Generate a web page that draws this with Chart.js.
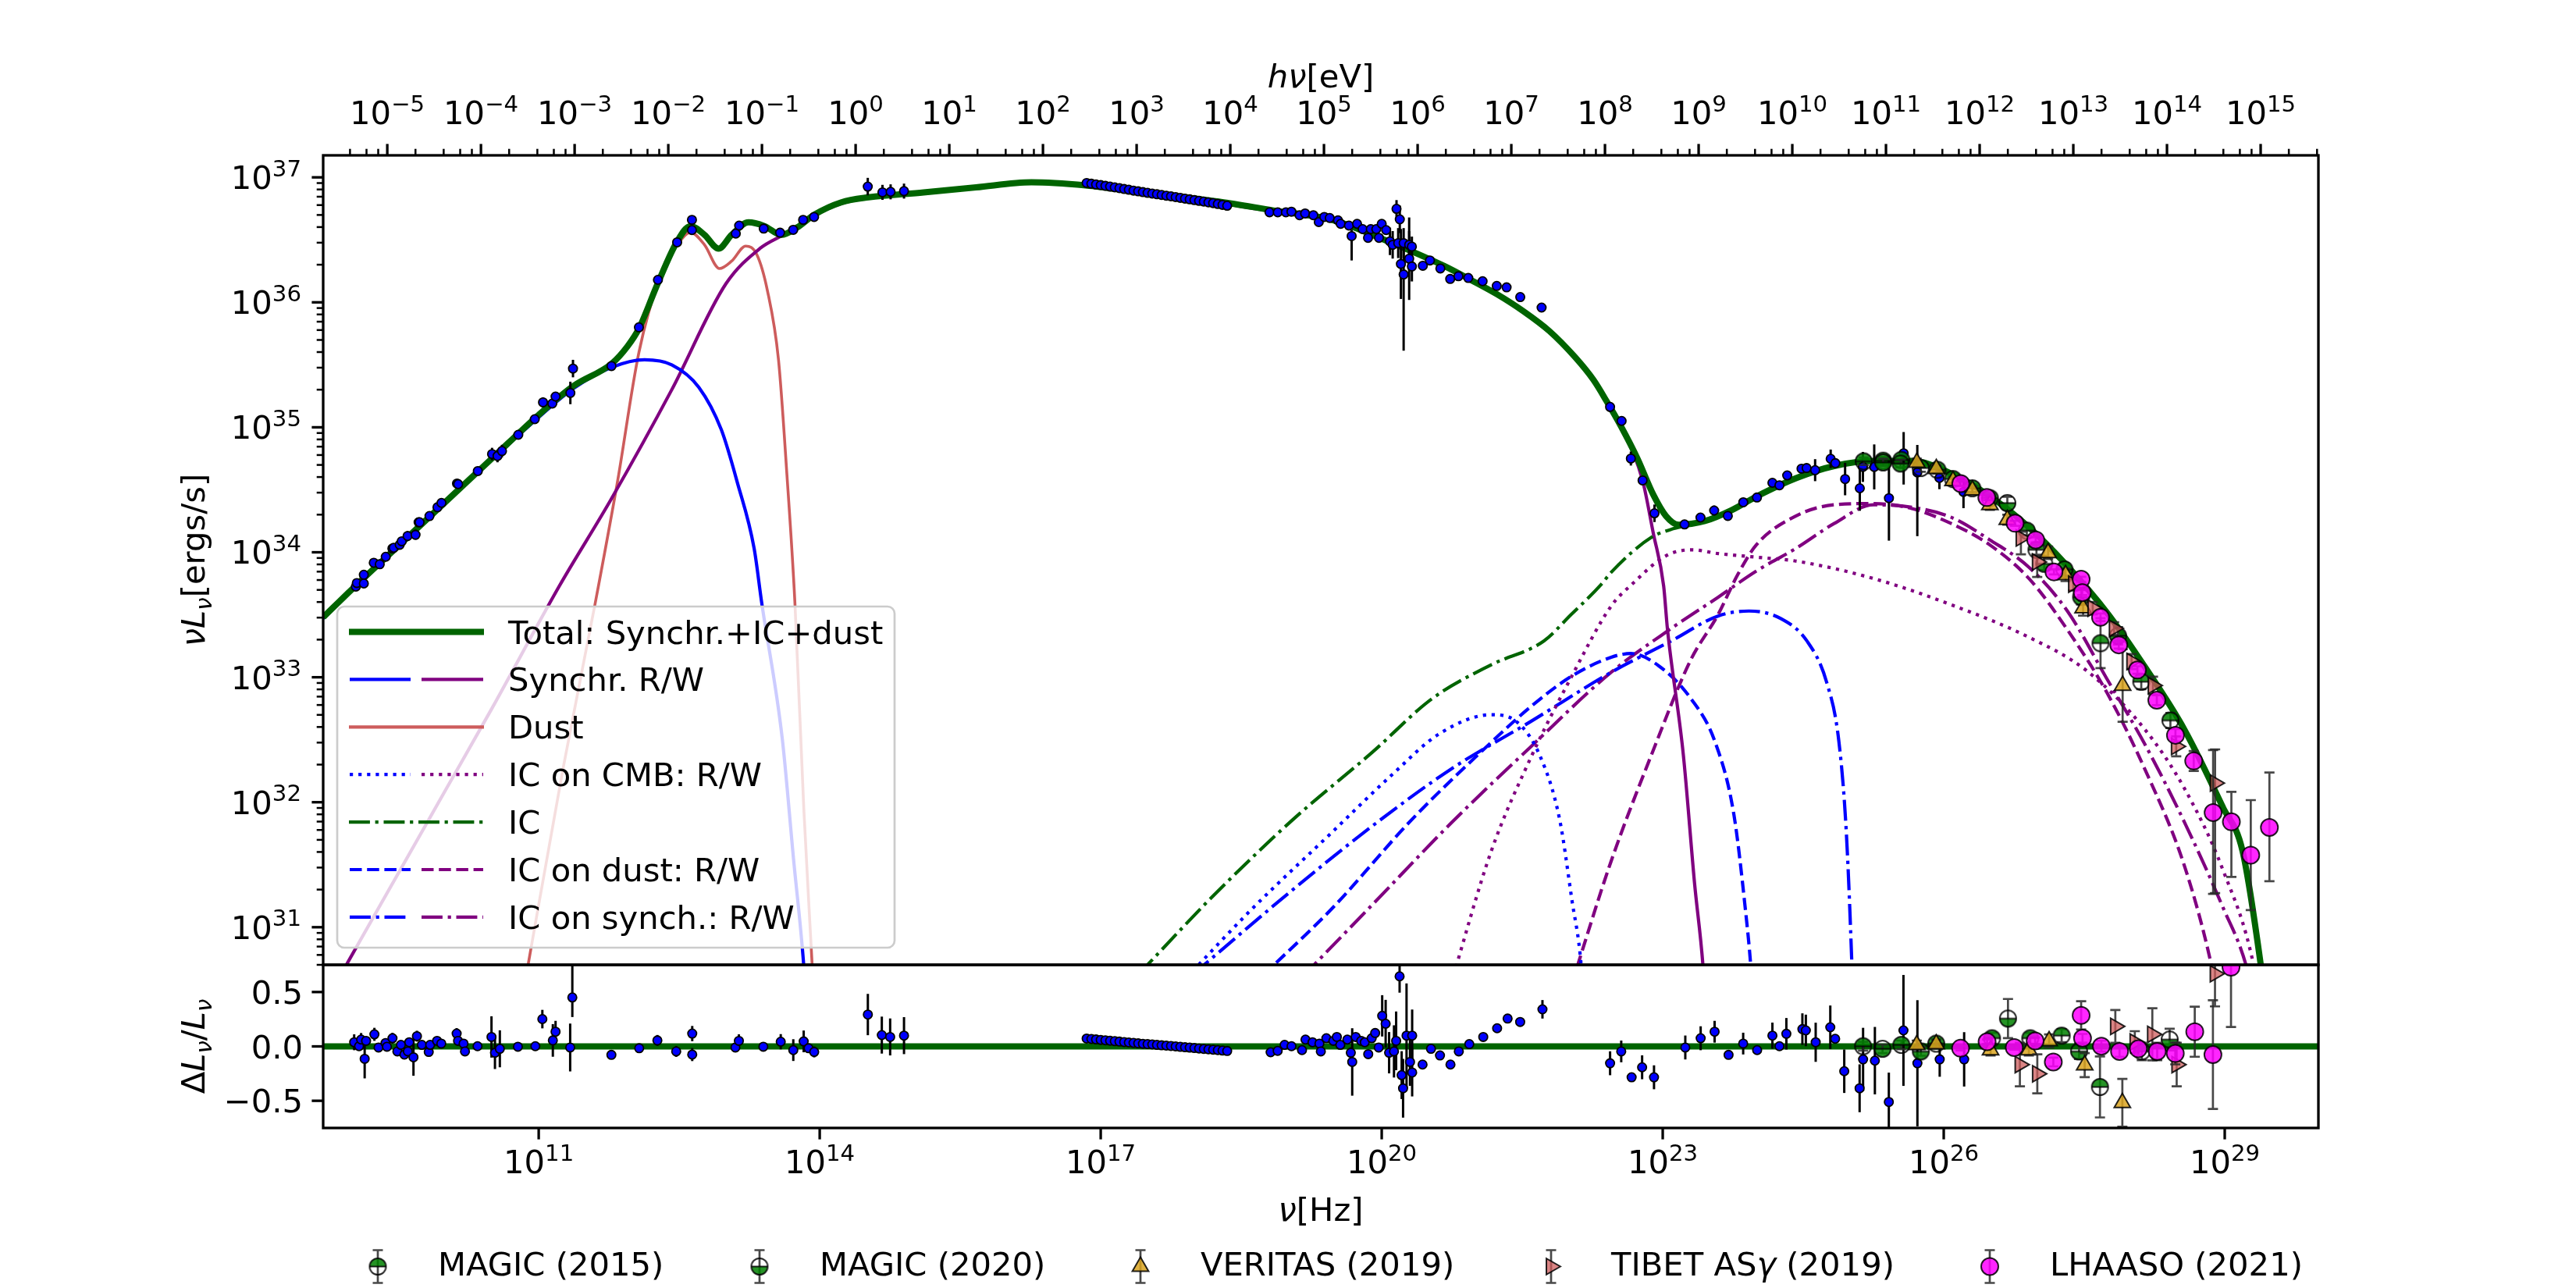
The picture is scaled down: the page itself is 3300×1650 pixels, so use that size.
<!DOCTYPE html>
<html>
<head>
<meta charset="utf-8">
<script src="https://cdn.jsdelivr.net/npm/chart.js@4.4.1/dist/chart.umd.min.js"></script>
<style>
  body { margin: 0; background: #fff; }
  #wrap { position: relative; width: 3300px; height: 1650px; background: #fff; }
  #wrap canvas { position: absolute; left: 0; top: 0; }
</style>
</head>
<body>
<div id="wrap">
  <canvas id="main" width="3300" height="1650"></canvas>
  <canvas id="resid" width="3300" height="1650"></canvas>
</div>
<script>
// axis ranges
const X_MIN = 5e8, X_MAX = 1e30, Y_MIN = 5e30, Y_MAX = 1.5e37;
const H_EV = 4.135667696e-15; // Planck constant, eV s

// ---- model curves: [log10 nu (Hz), log10 nuLnu (erg/s)] ----
const totalCurve = [[8.70,33.48],[9.0,33.70],[9.5,34.05],[10.0,34.40],[10.5,34.75],[11.0,35.10],[11.37,35.33],[11.78,35.51],[11.95,35.65],[12.07,35.79],[12.27,36.15],[12.48,36.49],[12.62,36.61],[12.77,36.54],[12.92,36.43],[13.06,36.54],[13.24,36.64],[13.41,36.61],[13.59,36.54],[13.76,36.60],[13.94,36.70],[14.23,36.80],[14.52,36.84],[15.11,36.88],[15.67,36.92],[16.26,36.96],[16.84,36.935],[17.43,36.88],[18.31,36.80],[18.89,36.73],[19.47,36.66],[20.06,36.49],[20.67,36.29],[20.95,36.18],[21.23,36.065],[21.51,35.93],[21.79,35.77],[22.06,35.565],[22.26,35.38],[22.40,35.21],[22.56,35.00],[22.73,34.75],[22.90,34.46],[23.035,34.29],[23.17,34.22],[23.45,34.25],[23.73,34.335],[24.01,34.45],[24.43,34.595],[24.83,34.69],[25.25,34.73],[25.66,34.73],[26.08,34.63],[26.49,34.45],[26.91,34.20],[27.32,33.89],[27.74,33.52],[28.15,33.08],[28.57,32.58],[28.98,31.96],[29.19,31.61],[29.39,30.67],[29.45,30.30]];
const synchR = [[8.70,33.47],[9.0,33.69],[9.5,34.04],[10.0,34.39],[10.5,34.74],[11.0,35.08],[11.37,35.31],[11.78,35.48],[12.13,35.54],[12.42,35.50],[12.71,35.32],[12.95,34.98],[13.12,34.56],[13.30,34.03],[13.38,33.60],[13.60,32.51],[13.72,31.55],[13.83,30.69],[13.85,30.45]];
const synchW = [[8.70,30.37],[8.94,30.69],[9.5,31.43],[10.0,32.09],[10.5,32.75],[11.22,33.73],[11.77,34.42],[12.42,35.30],[13.0,36.15],[13.36,36.43],[13.59,36.53],[13.76,36.59],[13.94,36.69],[14.23,36.79],[14.52,36.835],[15.11,36.875],[15.67,36.915],[16.26,36.955],[16.84,36.93],[17.43,36.875],[18.31,36.79],[18.89,36.72],[19.47,36.65],[20.06,36.485],[20.67,36.285],[20.95,36.175],[21.23,36.06],[21.51,35.925],[21.79,35.765],[22.06,35.56],[22.26,35.375],[22.40,35.205],[22.56,34.99],[22.785,34.575],[22.90,34.15],[23.01,33.73],[23.05,33.39],[23.22,32.38],[23.34,31.35],[23.43,30.69],[23.45,30.45]];
const dustCurve = [[10.84,30.50],[11.26,32.27],[11.60,33.58],[11.84,34.56],[12.07,35.60],[12.30,36.21],[12.48,36.46],[12.62,36.56],[12.77,36.46],[12.93,36.27],[13.06,36.33],[13.21,36.45],[13.33,36.38],[13.44,36.10],[13.56,35.54],[13.65,34.62],[13.735,33.60],[13.83,31.95],[13.92,30.69],[13.94,30.40]];
const icTotal = [[17.40,30.62],[18.20,31.25],[19.05,31.86],[19.90,32.40],[20.54,32.83],[21.17,33.10],[21.73,33.29],[22.02,33.50],[22.34,33.74],[22.45,33.84],[22.88,34.12],[23.12,34.19],[23.30,34.22],[23.45,34.25],[23.73,34.335],[24.01,34.45],[24.43,34.595],[24.83,34.69],[25.25,34.73],[25.66,34.73],[26.08,34.63],[26.49,34.45],[26.91,34.20],[27.32,33.89],[27.74,33.52],[28.15,33.08],[28.57,32.58],[28.98,31.96],[29.19,31.61],[29.39,30.67],[29.45,30.30]];
const icCmbR = [[17.92,30.60],[18.62,31.15],[19.47,31.76],[20.11,32.22],[20.62,32.55],[21.17,32.70],[21.43,32.65],[21.69,32.37],[21.90,31.86],[22.03,31.22],[22.13,30.69],[22.15,30.45]];
const icCmbW = [[20.74,30.55],[21.17,31.61],[21.60,32.37],[22.03,33.01],[22.45,33.57],[22.68,33.75],[23.03,33.97],[23.31,34.02],[23.59,33.99],[24.01,33.96],[24.42,33.93],[25.25,33.79],[26.08,33.58],[26.91,33.32],[27.53,33.05],[28.15,32.58],[28.57,32.11],[28.98,31.46],[29.31,30.69],[29.36,30.45]];
const icDustR = [[18.74,30.62],[19.47,31.15],[20.32,31.86],[21.17,32.48],[21.60,32.77],[22.03,33.01],[22.45,33.16],[22.66,33.19],[22.96,33.09],[23.30,32.83],[23.56,32.48],[23.76,31.90],[23.88,31.16],[23.94,30.69],[23.96,30.45]];
const icDustW = [[22.03,30.55],[22.45,31.53],[22.88,32.38],[23.30,33.14],[23.59,33.50],[23.80,33.82],[24.00,34.06],[24.42,34.29],[24.83,34.38],[25.25,34.39],[25.66,34.35],[26.08,34.23],[26.49,34.06],[26.91,33.79],[27.32,33.38],[27.74,32.88],[28.15,32.26],[28.57,31.49],[28.86,30.69],[28.92,30.45]];
const icSynR = [[17.98,30.62],[19.05,31.30],[19.90,31.81],[20.75,32.27],[21.60,32.65],[22.45,33.04],[23.09,33.29],[23.59,33.49],[23.92,33.53],[24.26,33.47],[24.54,33.29],[24.75,32.96],[24.88,32.49],[24.96,31.76],[25.02,30.69],[25.03,30.45]];
const icSynW = [[19.15,30.60],[19.90,31.18],[20.75,31.84],[21.60,32.45],[22.45,33.04],[23.09,33.39],[23.59,33.64],[24.00,33.85],[24.42,34.03],[24.83,34.23],[25.25,34.38],[25.66,34.36],[26.08,34.28],[26.49,34.10],[26.91,33.88],[27.32,33.53],[27.74,32.99],[28.15,32.46],[28.57,31.84],[28.98,31.16],[29.23,30.69],[29.30,30.45]];

// ---- measurements: [log10 nu, log10 nuLnu, err up (dex), err down (dex)] ----
const radioOptical = [[9.048,33.725],[9.058,33.754],[9.133,33.82],[9.133,33.75],[9.239,33.916],[9.303,33.904],[9.367,33.964],[9.438,34.03],[9.452,34.036],[9.516,34.06],[9.538,34.088],[9.60,34.13,0.04],[9.685,34.14,0.04],[9.718,34.24],[9.728,34.24],[9.834,34.29],[9.919,34.36],[9.962,34.395],[10.128,34.55],[10.14,34.545],[10.35,34.65],[10.502,34.786,0.05],[10.56,34.77,0.05],[10.608,34.81,0.05],[10.782,34.94],[10.958,35.065],[11.046,35.20,0.04],[11.145,35.19],[11.18,35.246],[11.338,35.275,0.09],[11.366,35.47,0.07],[11.777,35.49],[12.07,35.80],[12.273,36.18],[12.478,36.48],[12.636,36.66],[12.636,36.578],[13.104,36.55],[13.14,36.614],[13.402,36.59],[13.577,36.557],[13.717,36.58,0.03],[13.823,36.66,0.03],[13.94,36.683],[14.513,36.926,0.07],[14.67,36.88,0.06],[14.757,36.884,0.06],[14.90,36.89,0.06]];
const xrayRow = [[16.85,36.955],[16.90,36.949],[16.95,36.943],[17.00,36.938],[17.05,36.932],[17.10,36.926],[17.15,36.920],[17.20,36.914],[17.25,36.907],[17.30,36.901],[17.35,36.894],[17.40,36.888],[17.45,36.882],[17.50,36.876],[17.55,36.870],[17.60,36.865],[17.65,36.859],[17.70,36.853],[17.75,36.848],[17.80,36.842],[17.85,36.836],[17.90,36.830],[17.95,36.824],[18.00,36.818],[18.05,36.812],[18.10,36.806],[18.15,36.800],[18.20,36.794],[18.25,36.787],[18.30,36.780],[18.35,36.773]];
const hardXGamma = [[18.802,36.720],[18.890,36.720],[18.977,36.720],[19.036,36.725],[19.123,36.697],[19.182,36.711],[19.270,36.697],[19.328,36.642],[19.387,36.683],[19.445,36.675],[19.533,36.656],[19.562,36.628],[19.650,36.614],[19.679,36.530,0.05,0.195],[19.737,36.628],[19.796,36.586],[19.854,36.516],[19.883,36.586],[19.942,36.586],[19.971,36.516],[20.000,36.628],[20.047,36.578],[20.088,36.488,0.11],[20.117,36.460,0.11],[20.158,36.748,0.07],[20.193,36.664,0.11],[20.176,36.474,0.12],[20.234,36.474,0.12],[20.293,36.460,0.11],[20.322,36.446,0.08],[20.205,36.307,0.28],[20.234,36.223,0.265,0.61],[20.293,36.349,0.33],[20.322,36.287,0.12],[20.439,36.293],[20.515,36.335],[20.626,36.271],[20.731,36.187],[20.819,36.209],[20.924,36.195],[21.077,36.169],[21.228,36.131],[21.333,36.120],[21.479,36.042],[21.707,35.958],[22.438,35.163,0.04],[22.561,35.051],[22.660,34.750,0.056],[22.785,34.575],[22.912,34.312,0.07],[23.233,34.223],[23.403,34.278],[23.549,34.334,0.04],[23.695,34.291],[23.860,34.400],[24.006,34.438],[24.171,34.556],[24.246,34.536],[24.329,34.615,0.03],[24.482,34.669,0.03],[24.536,34.674],[24.627,34.657,0.088],[24.793,34.748,0.074],[24.843,34.713],[24.947,34.586,0.13],[25.104,34.512,0.18],[25.137,34.683,0.12],[25.258,34.683,0.18],[25.415,34.433,0.34],[25.572,34.792,0.17,0.25],[25.718,34.639,0.22,0.51],[25.954,34.595,0.09],[26.211,34.483,0.13]];
const magic2015 = [[25.146,34.728,0.03],[25.353,34.733,0.03],[25.548,34.739,0.03],[25.755,34.674,0.03],[25.933,34.660,0.03],[26.099,34.586,0.03],[26.306,34.512,0.03],[26.493,34.433,0.03],[26.887,34.173,0.04],[26.990,34.020,0.04],[27.289,33.863,0.05],[27.674,33.273,0.20],[28.109,32.964,0.06],[28.420,32.654,0.06]];
const magic2020 = [[25.353,34.719,0.03],[25.539,34.710,0.03],[26.679,34.394,0.05],[27.073,33.908,0.05],[27.467,33.642,0.06],[27.861,33.332,0.07]];
const veritas = [[25.713,34.719,0.03],[25.921,34.668,0.03],[26.099,34.571,0.03],[26.306,34.497,0.03],[26.493,34.380,0.04],[26.679,34.261,0.04],[27.114,33.996,0.05],[27.301,33.819,0.05],[27.488,33.553,0.06],[27.910,32.934,0.29]];
const tibet = [[26.824,34.114,0.05,0.13],[26.998,33.922,0.05,0.12],[27.384,33.745,0.05],[27.591,33.553,0.05],[27.819,33.391,0.05],[28.006,33.126,0.06],[28.234,32.934,0.07],[28.482,32.447,0.08],[28.897,32.153,0.27,0.88]];
const lhaaso = [[26.182,34.550,0.02],[26.460,34.438,0.02],[26.762,34.232,0.02],[26.982,34.099,0.02],[27.177,33.843,0.02],[27.467,33.784,0.02],[27.479,33.677,0.02],[27.674,33.480,0.03],[27.869,33.259,0.03],[28.068,33.058,0.03],[28.275,32.816,0.04],[28.474,32.536,0.05],[28.669,32.330,0.08],[28.876,31.917,0.50,0.65],[29.071,31.843,0.24,0.44],[29.278,31.577,0.44,0.44],[29.477,31.798,0.44,0.43]];

// ---- residuals: [log10 nu, dL/L, err up, err down] ----
const residBlue = [[9.030,0.038,0.073],[9.082,0.002],[9.104,0.063,0.06],[9.142,-0.114,0.18],[9.157,0.051],[9.246,0.111,0.06],[9.290,-0.010],[9.365,0.031],[9.380,-0.003],[9.439,0.075,0.05],[9.491,-0.046],[9.529,0.014],[9.566,-0.075],[9.603,-0.046],[9.618,0.038],[9.663,-0.100,0.17],[9.700,0.094,0.05],[9.752,0.014],[9.826,-0.051],[9.841,0.014],[9.915,0.051],[9.960,0.026],[10.124,0.118,0.05],[10.139,0.051],[10.198,0.026],[10.213,-0.046],[10.347,0.002],[10.496,0.087,0.19],[10.533,-0.058,0.15],[10.585,-0.022,0.17],[10.778,-0.003],[10.964,0.002],[11.039,0.251,0.085],[11.151,0.055,0.15],[11.180,0.135,0.1],[11.336,-0.010,0.22],[11.359,0.450,0.3,0.18],[11.776,-0.078],[12.073,-0.017],[12.267,0.055,0.05],[12.468,-0.046,0.05],[12.639,0.118,0.07],[12.639,-0.075,0.06],[13.100,-0.010],[13.137,0.051,0.06],[13.398,-0.003],[13.584,0.043,0.07],[13.718,-0.034,0.1],[13.829,0.046,0.1],[13.881,-0.017],[13.941,-0.051,0.05],[14.514,0.293,0.19],[14.663,0.104,0.17],[14.752,0.087,0.17],[14.900,0.099,0.17],
  [16.85,0.072],[16.90,0.068],[16.95,0.064],[17.00,0.060],[17.05,0.056],[17.10,0.052],[17.15,0.048],[17.20,0.044],[17.25,0.040],[17.30,0.036],[17.35,0.032],[17.40,0.028],[17.45,0.024],[17.50,0.021],[17.55,0.018],[17.60,0.014],[17.65,0.010],[17.70,0.007],[17.75,0.004],[17.80,0.000],[17.85,-0.004],[17.90,-0.008],[17.95,-0.011],[18.00,-0.015],[18.05,-0.019],[18.10,-0.023],[18.15,-0.027],[18.20,-0.030],[18.25,-0.034],[18.30,-0.038],[18.35,-0.042],
  [18.814,-0.054],[18.889,-0.041],[18.963,0.014],[19.037,0.002],[19.149,-0.034],[19.186,0.063],[19.261,0.038],[19.335,0.026],[19.350,-0.046],[19.409,0.075],[19.484,0.051],[19.521,0.087],[19.558,0.014],[19.633,0.063],[19.670,-0.058,0.05],[19.685,-0.143,0.31],[19.722,0.087],[19.781,0.051],[19.819,0.038],[19.856,-0.071],[19.893,0.075],[19.930,0.123],[19.968,-0.010],[20.005,0.281,0.19],[20.042,0.208,0.22],[20.079,-0.058,0.19],[20.131,-0.046,0.24],[20.154,0.051,0.27],[20.191,0.644,0.15],[20.213,-0.264,0.22],[20.228,-0.385,0.27],[20.265,0.099,0.48],[20.302,-0.143,0.22],[20.325,-0.240,0.22],[20.325,0.099,0.24],[20.436,-0.167],[20.526,-0.022],[20.622,-0.083],[20.734,-0.167],[20.823,-0.046],[20.935,0.021],[21.084,0.087],[21.232,0.167],[21.344,0.256],[21.478,0.225],[21.716,0.341,0.085],
  [22.438,-0.155,0.11],[22.557,-0.046,0.1],[22.668,-0.284],[22.780,-0.192,0.11],[22.907,-0.284,0.11],[23.241,-0.010,0.11],[23.405,0.075,0.11],[23.554,0.135,0.1],[23.703,-0.078],[23.859,0.026,0.1],[24.008,-0.034],[24.171,0.099,0.12],[24.246,0.002],[24.320,0.116,0.145],[24.491,0.159,0.145],[24.528,0.147,0.145],[24.633,0.038,0.18],[24.789,0.176,0.2],[24.841,0.070],[24.938,-0.228,0.2],[25.102,-0.385,0.22],[25.139,-0.119,0.29],[25.265,-0.131,0.31],[25.414,-0.511,0.27],[25.570,0.147,0.51],[25.719,-0.155,0.58],[25.957,-0.119,0.16],[26.218,-0.119,0.25]];
const residMagic15 = [[25.139,0.002,0.04],[25.548,0.014,0.04],[25.920,0.026,0.04],[26.515,0.075,0.05],[26.924,0.075,0.05],[27.259,0.099,0.06],[27.668,-0.373,0.28],[28.115,-0.046,0.08]];
const residMagic20 = [[25.347,-0.022,0.04],[25.756,-0.046,0.04],[26.686,0.256,0.18],[27.445,-0.046,0.07],[28.412,0.063,0.1]];
const residVeritas = [[25.712,0.014,0.04],[25.920,0.021,0.04],[26.500,-0.034,0.05],[26.909,-0.034,0.05],[27.125,0.050,0.06],[27.505,-0.172,0.11],[27.907,-0.519,0.22]];
const residTibet = [[26.813,-0.167,0.2],[26.999,-0.252,0.18],[27.832,0.184,0.15],[28.040,0.040,0.1],[28.227,0.111,0.24],[28.487,-0.167,0.2],[28.896,0.668,0.3]];
const residLhaaso = [[26.180,-0.017,0.02],[26.463,0.043,0.02],[26.753,-0.010,0.02],[26.976,0.051,0.03],[27.170,-0.143,0.04],[27.467,0.285,0.13],[27.482,0.075,0.04],[27.683,0.002,0.05],[27.877,-0.046,0.05],[28.078,-0.022,0.06],[28.279,-0.046,0.08],[28.472,-0.065,0.1],[28.680,0.135,0.23],[28.874,-0.075,0.5],[29.067,0.728,0.55]];
const residZero = [[8.699,0],[30.0,0]];

// ---- tick labels ----
const mainYExps = [31, 32, 33, 34, 35, 36, 37];
const topEvExps = [-5, -4, -3, -2, -1, 0, 1, 2, 3, 4, 5, 6, 7, 8, 9, 10, 11, 12, 13, 14, 15];
const bottomExps = [11, 14, 17, 20, 23, 26, 29];
const residYTicks = [-0.5, 0.0, 0.5];
const residYLabels = ['\u22120.5', '0.0', '0.5'];

// ---------------------------------------------------------------------------
const GREEN = '#006400', BLUE = '#0000ff', PURPLE = '#800080', DUST = '#cd5c5c';
const LW = 4.2;
const DASHED = [15.5, 6.7], DOTTED = [4.2, 6.9], DASHDOT = [26.9, 6.7, 4.2, 6.7];
const FONT = '"DejaVu Sans", sans-serif';
const FS = 41.7, FS_SUP = 29.2;
const font = (size, italic) => (italic ? 'italic ' : '') + size + 'px ' + FONT;

const C_MAGIC = 'rgba(0,128,0,0.85)';
const C_VERITAS = 'rgba(218,165,32,0.85)';
const C_TIBET = 'rgba(205,92,92,0.75)';
const C_LHAASO = 'rgba(255,0,255,0.85)';
const C_EDGE = 'rgba(0,0,0,0.85)';
const C_GBAR = 'rgba(40,40,40,0.85)';

const toXY = a => a.map(p => ({ x: 10 ** p[0], y: 10 ** p[1] }));
const logBars = a => a.map(p => { const up = p[2] || 0, dn = p[3] ?? up; return [10 ** (p[1] + up), 10 ** (p[1] - dn)]; });
const resXY = a => a.map(p => ({ x: 10 ** p[0], y: p[1] }));
const linBars = a => a.map(p => { const up = p[2] || 0, dn = p[3] ?? up; return [p[1] + up, p[1] - dn]; });

// half-filled circle marker (matplotlib fillstyle top / bottom)
function halfCircle(r, top) {
  const s = Math.ceil(2 * r + 6), c = document.createElement('canvas');
  c.width = c.height = s;
  const g = c.getContext('2d'), m = s / 2;
  g.beginPath();
  if (top) g.arc(m, m, r, Math.PI, 2 * Math.PI); else g.arc(m, m, r, 0, Math.PI);
  g.closePath();
  g.fillStyle = C_MAGIC; g.fill();
  g.strokeStyle = C_EDGE; g.lineWidth = 2;
  g.beginPath(); g.arc(m, m, r, 0, 2 * Math.PI); g.stroke();
  g.beginPath(); g.moveTo(m - r, m); g.lineTo(m + r, m); g.stroke();
  return c;
}
const MAGIC_TOP = halfCircle(10.5, true);
const MAGIC_BOTTOM = halfCircle(10.5, false);

function curve(arr, color, width, dash, order) {
  return { data: toXY(arr), showLine: true, borderColor: color, borderWidth: width, borderDash: dash,
    borderCapStyle: 'butt', pointRadius: 0, fill: false, cubicInterpolationMode: 'monotone', order };
}
function blueDots(data, bars, order) {
  return { data, bars, barColor: '#000', barWidth: 3, cap: 0, showLine: false, pointStyle: 'circle',
    pointRadius: 5.6, backgroundColor: BLUE, borderColor: '#000', borderWidth: 1.8, order };
}
function gammaSet(data, bars, style, order) {
  return Object.assign({ data, bars, barColor: C_GBAR, barWidth: 2.7, cap: 6.5, showLine: false,
    borderColor: C_EDGE, borderWidth: 2, order }, style);
}
const ST_M15 = { pointStyle: MAGIC_TOP };
const ST_M20 = { pointStyle: MAGIC_BOTTOM };
const ST_VER = { pointStyle: 'triangle', pointRadius: 12, backgroundColor: C_VERITAS };
const ST_TIB = { pointStyle: 'triangle', pointRadius: 12, rotation: 90, backgroundColor: C_TIBET };
const ST_LHA = { pointStyle: 'circle', pointRadius: 11, backgroundColor: C_LHAASO };

// error bars drawn just under each marker dataset
const errorBars = {
  id: 'errorBars',
  beforeDatasetDraw(chart, args) {
    const ds = chart.data.datasets[args.index];
    if (!ds.bars) return;
    const { ctx, chartArea: a } = chart;
    const xs = chart.scales.x, ys = chart.scales.y;
    ctx.save();
    ctx.beginPath(); ctx.rect(a.left, a.top, a.right - a.left, a.bottom - a.top); ctx.clip();
    ctx.strokeStyle = ds.barColor; ctx.lineWidth = ds.barWidth; ctx.lineCap = 'butt';
    ds.bars.forEach((b, i) => {
      if (b[0] === b[1]) return;
      const px = xs.getPixelForValue(ds.data[i].x);
      const t = ys.getPixelForValue(b[0]), bt = ys.getPixelForValue(b[1]);
      ctx.beginPath(); ctx.moveTo(px, t); ctx.lineTo(px, bt);
      if (ds.cap) {
        ctx.moveTo(px - ds.cap, t); ctx.lineTo(px + ds.cap, t);
        ctx.moveTo(px - ds.cap, bt); ctx.lineTo(px + ds.cap, bt);
      }
      ctx.stroke();
    });
    ctx.restore();
  }
};

// text helpers
function drawParts(ctx, parts, x, y, align) {
  let w = 0;
  const segs = parts.map(p => {
    const f = font(p.s || FS, p.i);
    ctx.font = f;
    const m = ctx.measureText(p.t).width;
    w += m;
    return { f, m, p };
  });
  let cx = align === 'center' ? x - w / 2 : align === 'right' ? x - w : x;
  ctx.textAlign = 'left'; ctx.textBaseline = 'alphabetic';
  segs.forEach(s => { ctx.font = s.f; ctx.fillText(s.p.t, cx, y + (s.p.dy || 0)); cx += s.m; });
}
function powLabel(ctx, e, x, y, align) {
  const es = e < 0 ? '\u2212' + (-e) : String(e);
  drawParts(ctx, [{ t: '10' }, { t: es, s: FS_SUP, dy: -16.5 }], x, y, align);
}
function tick(ctx, x0, y0, dx, dy, w) {
  ctx.lineWidth = w;
  ctx.beginPath(); ctx.moveTo(x0, y0); ctx.lineTo(x0 + dx, y0 + dy); ctx.stroke();
}
function vText(ctx, parts, x, y) {
  ctx.save(); ctx.translate(x, y); ctx.rotate(-Math.PI / 2);
  drawParts(ctx, parts, 0, 13, 'center');
  ctx.restore();
}

// legend inside the main panel
const legendRows = [
  { label: [{ t: 'Total: Synchr.+IC+dust' }], lines: [[GREEN, 8, []]] },
  { label: [{ t: 'Synchr. R/W' }], lines: [[BLUE, LW, []], [PURPLE, LW, []]] },
  { label: [{ t: 'Dust' }], lines: [[DUST, LW, []]] },
  { label: [{ t: 'IC on CMB: R/W' }], lines: [[BLUE, LW, DOTTED], [PURPLE, LW, DOTTED]] },
  { label: [{ t: 'IC' }], lines: [[GREEN, LW, DASHDOT]] },
  { label: [{ t: 'IC on dust: R/W' }], lines: [[BLUE, LW, DASHED], [PURPLE, LW, DASHED]] },
  { label: [{ t: 'IC on synch.: R/W' }], lines: [[BLUE, LW, DASHDOT], [PURPLE, LW, DASHDOT]] }
];
function drawMainLegend(ctx) {
  ctx.save();
  ctx.beginPath(); ctx.roundRect(432, 777, 714, 437, 9);
  ctx.fillStyle = 'rgba(255,255,255,0.8)'; ctx.fill();
  ctx.strokeStyle = '#cccccc'; ctx.lineWidth = 2.7; ctx.stroke();
  legendRows.forEach((row, i) => {
    const y = 809.5 + i * 60.9;
    const segs = row.lines.length === 1 ? [[447, 620]] : [[448, 526], [540, 619]];
    row.lines.forEach((l, j) => {
      ctx.strokeStyle = l[0]; ctx.lineWidth = l[1]; ctx.setLineDash(l[2]); ctx.lineCap = 'butt';
      ctx.beginPath(); ctx.moveTo(segs[j][0], y); ctx.lineTo(segs[j][1], y); ctx.stroke();
    });
    ctx.setLineDash([]);
    ctx.fillStyle = '#000';
    drawParts(ctx, row.label, 651, y + 15, 'left');
  });
  ctx.restore();
}

const mainAxes = {
  id: 'mainAxes',
  afterDraw(chart) {
    const { ctx, chartArea: a } = chart;
    const ys = chart.scales.y, xe = chart.scales.xe;
    drawMainLegend(ctx);
    ctx.save();
    ctx.strokeStyle = '#000'; ctx.fillStyle = '#000';
    ctx.lineWidth = 3.3;
    ctx.strokeRect(a.left, a.top, a.right - a.left, a.bottom - a.top);
    // left axis: decades + minor 2..9
    for (let n = 30; n <= 37; n++) {
      for (let k = 2; k <= 9; k++) {
        const v = k * 10 ** n;
        if (v < Y_MIN || v > Y_MAX) continue;
        tick(ctx, a.left, ys.getPixelForValue(v), -8.3, 0, 2.5);
      }
    }
    mainYExps.forEach(n => {
      const py = ys.getPixelForValue(10 ** n);
      tick(ctx, a.left, py, -14.6, 0, 3.3);
      powLabel(ctx, n, a.left - 28, py + 15, 'right');
    });
    // top axis in eV
    const eMin = X_MIN * H_EV, eMax = X_MAX * H_EV;
    for (let n = -7; n <= 16; n++) {
      [2, 4, 6, 8].forEach(k => {
        const v = k * 10 ** n;
        if (v < eMin || v > eMax) return;
        tick(ctx, xe.getPixelForValue(v), a.top, 0, -8.3, 2.5);
      });
    }
    topEvExps.forEach(n => {
      const px = xe.getPixelForValue(10 ** n);
      tick(ctx, px, a.top, 0, -14.6, 3.3);
      powLabel(ctx, n, px, 159, 'center');
    });
    drawParts(ctx, [{ t: 'h\u03bd', i: true }, { t: '[eV]' }], (a.left + a.right) / 2, 112, 'center');
    vText(ctx, [{ t: '\u03bd', i: true }, { t: 'L', i: true }, { t: '\u03bd', i: true, s: FS_SUP, dy: 9 }, { t: '[ergs/s]' }], 249, (a.top + a.bottom) / 2);
    ctx.restore();
  }
};

// bottom legend (below the residual panel)
const bottomLegend = [
  { label: [{ t: 'MAGIC (2015)' }], x: 484, mark: 'm15' },
  { label: [{ t: 'MAGIC (2020)' }], x: 973, mark: 'm20' },
  { label: [{ t: 'VERITAS (2019)' }], x: 1461, mark: 'ver' },
  { label: [{ t: 'TIBET AS' }, { t: '\u03b3', i: true }, { t: ' (2019)' }], x: 1987, mark: 'tib' },
  { label: [{ t: 'LHAASO (2021)' }], x: 2549, mark: 'lha' }
];
function triPath(ctx, x, y, r, rot) {
  let rad = rot * Math.PI / 180;
  ctx.beginPath();
  for (let i = 0; i < 3; i++) {
    const px = x + Math.sin(rad) * r, py = y - Math.cos(rad) * r;
    if (i === 0) ctx.moveTo(px, py); else ctx.lineTo(px, py);
    rad += 2 * Math.PI / 3;
  }
  ctx.closePath();
}
function drawBottomLegend(ctx) {
  const y = 1622.5;
  bottomLegend.forEach(it => {
    ctx.strokeStyle = C_GBAR; ctx.lineWidth = 2.7;
    ctx.beginPath();
    ctx.moveTo(it.x, y - 21); ctx.lineTo(it.x, y + 21);
    ctx.moveTo(it.x - 6.5, y - 21); ctx.lineTo(it.x + 6.5, y - 21);
    ctx.moveTo(it.x - 6.5, y + 21); ctx.lineTo(it.x + 6.5, y + 21);
    ctx.stroke();
    ctx.strokeStyle = C_EDGE; ctx.lineWidth = 2;
    if (it.mark === 'm15' || it.mark === 'm20') {
      const img = it.mark === 'm15' ? MAGIC_TOP : MAGIC_BOTTOM;
      ctx.drawImage(img, it.x - img.width / 2, y - img.height / 2);
    } else if (it.mark === 'lha') {
      ctx.beginPath(); ctx.arc(it.x, y, 11, 0, 2 * Math.PI);
      ctx.fillStyle = C_LHAASO; ctx.fill(); ctx.stroke();
    } else {
      triPath(ctx, it.x, y, 12, it.mark === 'tib' ? 90 : 0);
      ctx.fillStyle = it.mark === 'tib' ? C_TIBET : C_VERITAS; ctx.fill(); ctx.stroke();
    }
    ctx.fillStyle = '#000';
    drawParts(ctx, it.label, it.x + 77, 1634, 'left');
  });
}

const residAxes = {
  id: 'residAxes',
  afterDraw(chart) {
    const { ctx, chartArea: a } = chart;
    const xs = chart.scales.x, ys = chart.scales.y;
    ctx.save();
    ctx.strokeStyle = '#000'; ctx.fillStyle = '#000';
    ctx.lineWidth = 3.3;
    ctx.strokeRect(a.left, a.top, a.right - a.left, a.bottom - a.top);
    residYTicks.forEach((v, i) => {
      const py = ys.getPixelForValue(v);
      tick(ctx, a.left, py, -14.6, 0, 3.3);
      drawParts(ctx, [{ t: residYLabels[i] }], a.left - 26, py + 15, 'right');
    });
    bottomExps.forEach(n => {
      const px = xs.getPixelForValue(10 ** n);
      tick(ctx, px, a.bottom, 0, 14.6, 3.3);
      powLabel(ctx, n, px, 1503, 'center');
    });
    drawParts(ctx, [{ t: '\u03bd', i: true }, { t: '[Hz]' }], (a.left + a.right) / 2, 1564, 'center');
    vText(ctx, [{ t: '\u0394' }, { t: 'L', i: true }, { t: '\u03bd', i: true, s: FS_SUP, dy: 9 }, { t: '/' },
      { t: 'L', i: true }, { t: '\u03bd', i: true, s: FS_SUP, dy: 9 }], 249, (a.top + a.bottom) / 2);
    drawBottomLegend(ctx);
    ctx.restore();
  }
};

const baseOptions = (pad, yScale) => ({
  responsive: false, animation: false, devicePixelRatio: 1, events: [],
  layout: { padding: pad },
  plugins: { legend: { display: false }, tooltip: { enabled: false } },
  scales: Object.assign({ x: { type: 'logarithmic', min: X_MIN, max: X_MAX, display: false } }, yScale)
});

// main SED panel
const mainSets = [
  gammaSet(toXY(lhaaso), logBars(lhaaso), ST_LHA, -6),
  gammaSet(toXY(tibet), logBars(tibet), ST_TIB, -5),
  gammaSet(toXY(veritas), logBars(veritas), ST_VER, -4),
  gammaSet(toXY(magic2020), logBars(magic2020), ST_M20, -3),
  gammaSet(toXY(magic2015), logBars(magic2015), ST_M15, -2),
  blueDots(toXY(radioOptical), logBars(radioOptical), -1),
  blueDots(toXY(xrayRow), logBars(xrayRow), -1),
  blueDots(toXY(hardXGamma), logBars(hardXGamma), -1),
  curve(totalCurve, GREEN, 8, [], 1),
  curve(icTotal, GREEN, LW, DASHDOT, 2),
  curve(synchR, BLUE, LW, [], 2),
  curve(synchW, PURPLE, LW, [], 2),
  curve(dustCurve, DUST, 3.6, [], 2),
  curve(icCmbR, BLUE, LW, DOTTED, 2),
  curve(icCmbW, PURPLE, LW, DOTTED, 2),
  curve(icDustR, BLUE, LW, DASHED, 2),
  curve(icDustW, PURPLE, LW, DASHED, 2),
  curve(icSynR, BLUE, LW, DASHDOT, 2),
  curve(icSynW, PURPLE, LW, DASHDOT, 2)
];
const mainOpts = baseOptions({ left: 414, right: 330, top: 199, bottom: 414 }, {
  xe: { type: 'logarithmic', axis: 'x', position: 'top', min: X_MIN * H_EV, max: X_MAX * H_EV, display: false },
  y: { type: 'logarithmic', min: Y_MIN, max: Y_MAX, display: false }
});
new Chart(document.getElementById('main'), {
  type: 'scatter', data: { datasets: mainSets }, options: mainOpts, plugins: [errorBars, mainAxes]
});

// residual panel
const residSets = [
  gammaSet(resXY(residLhaaso), linBars(residLhaaso), ST_LHA, -6),
  gammaSet(resXY(residTibet), linBars(residTibet), ST_TIB, -5),
  gammaSet(resXY(residVeritas), linBars(residVeritas), ST_VER, -4),
  gammaSet(resXY(residMagic20), linBars(residMagic20), ST_M20, -3),
  gammaSet(resXY(residMagic15), linBars(residMagic15), ST_M15, -2),
  blueDots(resXY(residBlue), linBars(residBlue), -1),
  { data: resXY(residZero), showLine: true, borderColor: GREEN, borderWidth: 8, pointRadius: 0, fill: false, order: 1 }
];
const residOpts = baseOptions({ left: 414, right: 330, top: 1236, bottom: 205 }, {
  y: { type: 'linear', min: -0.75, max: 0.75, display: false }
});
new Chart(document.getElementById('resid'), {
  type: 'scatter', data: { datasets: residSets }, options: residOpts, plugins: [errorBars, residAxes]
});
</script>
</body>
</html>
